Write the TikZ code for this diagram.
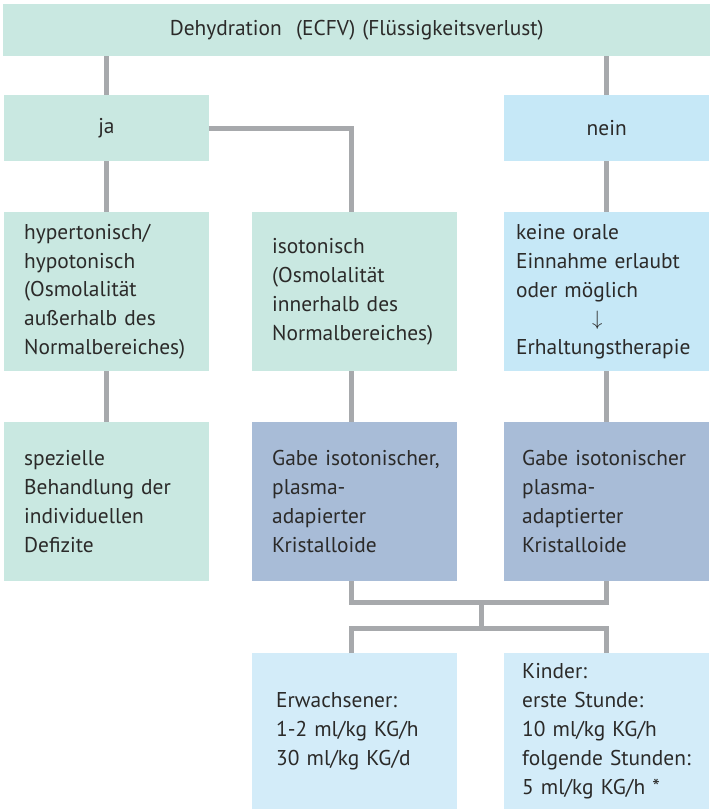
\documentclass[tikz,border=0pt]{standalone}
\usepackage{fontspec}
\setmainfont{PT Sans}
\definecolor{mint}{HTML}{C9E8E1}
\definecolor{neinblue}{HTML}{C6E8F7}
\definecolor{darkblue}{HTML}{A8BCD7}
\definecolor{paleblue}{HTML}{D3ECF9}
\definecolor{conn}{HTML}{A7A9AC}
\definecolor{txt}{HTML}{2B2A29}
\begin{document}
\begin{tikzpicture}[x=1pt,y=-1pt,
  base/.style={anchor=north west, inner ysep=0pt, inner xsep=0pt, align=left, text=txt,
    font=\fontsize{21.4}{28.8}\selectfont, text width=204.5pt},
  inset/.style={execute at begin node={\leftskip=#1\relax\hyphenpenalty=10000\relax}},
  line/.style={draw=conn, line width=5pt}]
\useasboundingbox (0,0) rectangle (710,809);
\coordinate (c1) at (481,602);
\coordinate (c2) at (481,628);
% boxes
\node[base, fill=mint, minimum height=52pt, align=center, text width=707pt] (top) at (3,4) {Dehydration\ \ (ECFV) (Flüssigkeitsverlust)};
\node[base, fill=mint, minimum height=66pt, align=center] (ja) at (4,95) {ja};
\node[base, fill=neinblue, minimum height=66pt, align=center, text width=205pt] (nein) at (504,95) {nein};
\node[base, inset=20pt, fill=mint, minimum height=159pt] (hyper) at (4,212) {hypertonisch/\\hypotonisch\\(Osmolalität\\außerhalb des\\Normalbereiches)};
\node[base, inset=20pt, fill=mint, minimum height=159pt] (iso) at (252,212) {isotonisch\\(Osmolalität\\innerhalb des\\Normalbereiches)};
\node[base, inset=12pt, fill=neinblue, minimum height=159pt, text width=205pt] (keine) at (504,212) {keine orale\\Einnahme erlaubt\\oder möglich\\\hspace*{76pt}{\fontsize{20}{20}\selectfont$\downarrow$}\\Erhaltungstherapie};
\node[base, inset=20pt, fill=mint, minimum height=159pt] (spez) at (4,422) {spezielle\\Behandlung der\\individuellen\\Defizite};
\node[base, inset=20pt, fill=darkblue, minimum height=159pt] (gabe1) at (252,422) {Gabe isotonischer,\\plasma-\\adapierter\\Kristalloide};
\node[base, inset=18pt, fill=darkblue, minimum height=159pt, text width=205pt] (gabe2) at (504,422) {Gabe isotonischer\\plasma-\\adaptierter\\Kristalloide};
\node[base, inset=24pt, fill=paleblue, minimum height=156pt] (erw) at (252,653) {Erwachsener:\\1-2 ml/kg KG/h\\30 ml/kg KG/d};
\node[base, inset=18pt, fill=paleblue, minimum height=156pt, text width=205pt] (kind) at (504,653) {Kinder:\\erste Stunde:\\10 ml/kg KG/h\\folgende Stunden:\\5 ml/kg KG/h *};
% connectors
\draw[line] (ja.north |- top.south) -- (ja.north);
\draw[line] (nein.north |- top.south) -- (nein.north);
\draw[line] (ja.south) -- (hyper.north);
\draw[line] (ja.east) -| ([xshift=-2.5pt]iso.north);
\draw[line] (nein.south) -- (keine.north);
\draw[line] (hyper.south) -- (spez.north);
\draw[line] ([xshift=-2.5pt]iso.south) -- ([xshift=-2.5pt]gabe1.north);
\draw[line] (keine.south) -- (gabe2.north);
\draw[line] ([xshift=-2.5pt]gabe1.south) |- (c1) -| (gabe2.south);
\draw[line] (c1) -- (c2);
\draw[line] ([xshift=-2.5pt]erw.north) |- (c2) -| (kind.north);
\end{tikzpicture}
\end{document}
